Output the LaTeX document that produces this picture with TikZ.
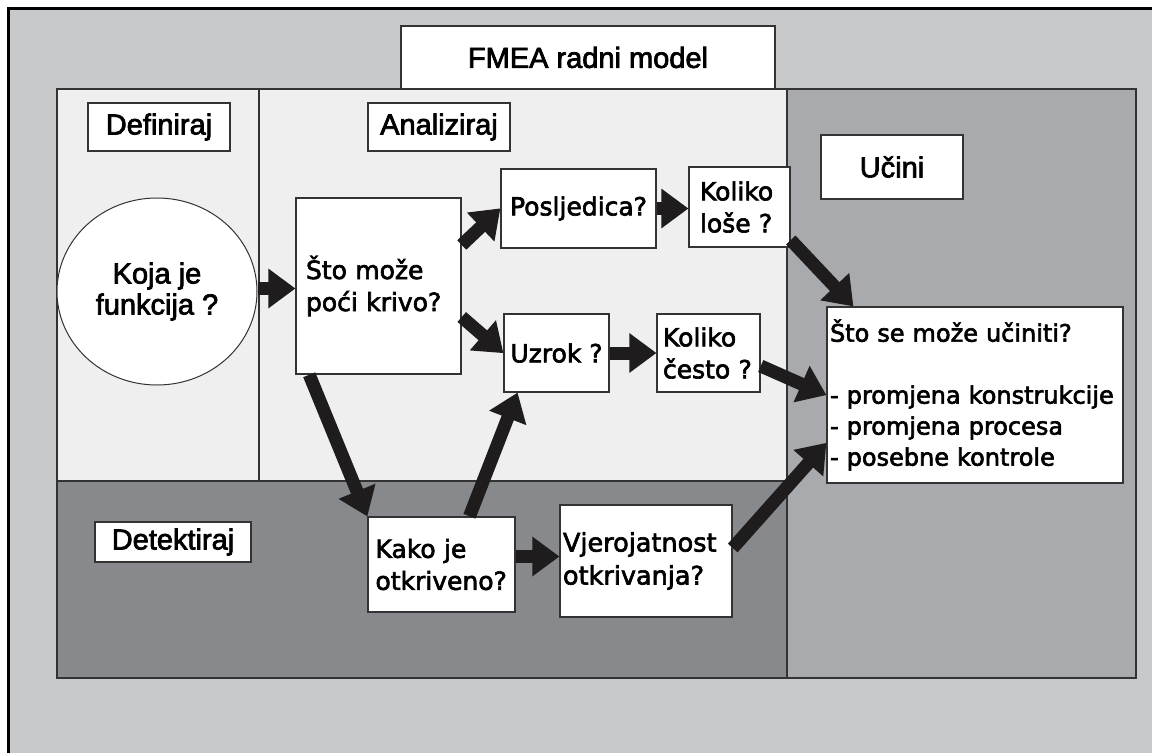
\documentclass[tikz,border=0pt]{standalone}
\usepackage{fontspec}
\setmainfont{Liberation Sans}
\newfontfamily\arx[FakeBold=2.5]{Liberation Sans}
\newfontfamily\dvs[FakeBold=2.5]{DejaVu Sans}
\usetikzlibrary{calc,shapes.geometric}
\definecolor{bgc}{HTML}{C8C9CB}
\definecolor{lightc}{HTML}{EFEFEF}
\definecolor{darkc}{HTML}{88898D}
\definecolor{midc}{HTML}{A9AAAD}
\definecolor{linec}{HTML}{333333}
\definecolor{arrc}{HTML}{1E1C1D}
\newcommand{\blkarrow}[2]{%
  \path #1 coordinate (ba) #2 coordinate (bb);
  \draw[shaft] (ba) -- ($(bb)!24pt!(ba)$);
  \fill[arrc] (bb) -- ($(bb)!27pt!(ba)!20pt!90:(ba)$) -- ($(bb)!27pt!(ba)!20pt!-90:(ba)$) -- cycle;
}
\begin{document}
\begin{tikzpicture}[x=1pt,y=-1pt,
  wbox/.style={draw=linec, line width=1.5pt, fill=white, inner sep=0pt},
  lbl/.style={wbox, font=\arx\fontsize{29}{32}\selectfont, align=center},
  qbox/.style={wbox, font=\dvs\fontsize{25}{32}\selectfont, align=left},
  panel/.style={draw=linec, line width=1.8pt},
  shaft/.style={draw=arrc, line width=13pt}
]
\useasboundingbox (0,0) rectangle (1152,753);
\fill[white] (0,0) rectangle (1152,753);
\fill[bgc] (8,8) rectangle (1152,753);
\draw[black, line width=3pt] (8,753) -- (8,8) -- (1152,8);

% panels
\fill[lightc] (57,89) rectangle (787,481);
\fill[darkc] (57,481) rectangle (787,678);
\fill[midc] (787,89) rectangle (1136,678);
\draw[panel] (57,89) rectangle (1136,678);
\draw[panel] (259,89) -- (259,481);
\draw[panel] (57,481) -- (787,481);
\draw[panel] (787,89) -- (787,678);

% title
\node[lbl, minimum width=374pt, minimum height=63pt] (title) at (588,57.5) {FMEA radni model};

% labels
\node[lbl, minimum width=142pt, minimum height=48pt] (def) at (159,127) {Definiraj};
\node[lbl, minimum width=142pt, minimum height=48pt] (ana) at (439,127) {Analiziraj};
\node[lbl, minimum width=142pt, minimum height=64pt] (uci) at (892,167) {Učini};
\node[lbl, minimum width=156pt, minimum height=40pt] (det) at (173,542) {Detektiraj};

% circle
\node[ellipse, draw=linec, line width=1pt, fill=white, minimum width=200pt, minimum height=187pt,
      inner sep=0pt, align=center, font=\arx\fontsize{29}{31}\selectfont] (circ) at (157,291.5) {Koja je\\funkcija ?};

% question boxes
\node[qbox, minimum width=165pt, minimum height=176pt, inner xsep=10pt, text width=145pt] (sto) at (378.5,286) {Što može\\poći krivo?};
\node[qbox, minimum width=155pt, minimum height=79pt, align=center] (posl) at (578.5,208.5) {Posljedica?};
\node[qbox, minimum width=101pt, minimum height=80pt, inner xsep=11pt, text width=79pt] (kl) at (739.5,207) {Koliko\\loše ?};
\node[qbox, minimum width=105pt, minimum height=78pt, align=center] (uzr) at (556.5,353) {Uzrok ?};
\node[qbox, minimum width=103pt, minimum height=78pt, inner xsep=6pt, text width=91pt] (kc) at (708.5,353) {Koliko\\često ?};
\node[qbox, minimum width=147pt, minimum height=95pt, inner xsep=7.5pt, text width=132pt] (kako) at (441.5,564.5) {Kako je\\otkriveno?};
\node[qbox, minimum width=172pt, minimum height=112pt, inner xsep=3pt, text width=166pt, font=\dvs\fontsize{25.5}{33}\selectfont] (vj) at (646,561) {Vjerojatnost\\otkrivanja?};
\node[qbox, minimum width=296pt, minimum height=176pt, inner xsep=3pt, text width=290pt, font=\dvs\fontsize{24}{31}\selectfont] (sts) at (975,395)
  {Što se može učiniti?\\[31pt]- promjena konstrukcije\\- promjena procesa\\- posebne kontrole};

% arrows
\blkarrow{([yshift=3pt]circ.east)}{([yshift=3pt]circ.east -| sto.west)}
\blkarrow{([yshift=41pt]sto.east)}{(posl.west)}
\blkarrow{([yshift=-31pt]sto.east)}{(uzr.west)}
\blkarrow{(posl.east)}{(posl.east -| kl.west)}
\blkarrow{(uzr.east)}{(uzr.east -| kc.west)}
\blkarrow{([yshift=-33pt]kl.east)}{([xshift=27pt]sts.north west)}
\blkarrow{([yshift=-13pt]kc.east)}{(sts.west)}
\blkarrow{([yshift=13pt]vj.east)}{([yshift=-48pt]sts.west)}
\blkarrow{([xshift=14pt]sto.south west)}{(kako.north west)}
\blkarrow{([xshift=28pt]kako.north)}{([xshift=-39pt]uzr.south)}
\blkarrow{([yshift=8pt]kako.east)}{([yshift=8pt]kako.east -| vj.west)}
\end{tikzpicture}
\end{document}
